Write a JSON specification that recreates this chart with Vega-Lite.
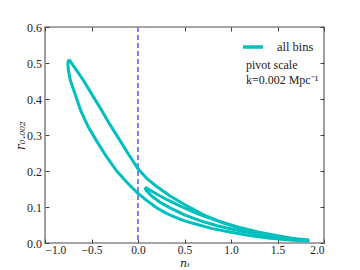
{
  "$schema": "https://vega.github.io/schema/vega-lite/v6.json",
  "width": 279,
  "height": 216,
  "autosize": {"type": "none"},
  "padding": {"left": 45, "top": 27, "right": 36, "bottom": 27},
  "config": {
    "view": {"stroke": "#888888", "strokeWidth": 1.6},
    "font": "Liberation Serif",
    "axis": {
      "grid": false,
      "domain": false,
      "labelFont": "Liberation Serif",
      "labelFontSize": 12,
      "labelColor": "#222222",
      "tickColor": "#444444",
      "tickSize": -4,
      "labelPadding": 8,
      "titleFont": "DejaVu Serif",
      "titleFontSize": 12,
      "titleFontWeight": "normal",
      "titleColor": "#222222"
    }
  },
  "datasets": {
    "contour": [
      {"loop": "outer", "i": 0, "x": -0.742, "y": 0.510},
      {"loop": "outer", "i": 1, "x": -0.754, "y": 0.501},
      {"loop": "outer", "i": 2, "x": -0.750, "y": 0.482},
      {"loop": "outer", "i": 3, "x": -0.728, "y": 0.452},
      {"loop": "outer", "i": 4, "x": -0.688, "y": 0.422},
      {"loop": "outer", "i": 5, "x": -0.616, "y": 0.368},
      {"loop": "outer", "i": 6, "x": -0.534, "y": 0.322},
      {"loop": "outer", "i": 7, "x": -0.444, "y": 0.283},
      {"loop": "outer", "i": 8, "x": -0.337, "y": 0.239},
      {"loop": "outer", "i": 9, "x": -0.229, "y": 0.200},
      {"loop": "outer", "i": 10, "x": -0.110, "y": 0.166},
      {"loop": "outer", "i": 11, "x": 0.0, "y": 0.138},
      {"loop": "outer", "i": 12, "x": 0.1, "y": 0.117},
      {"loop": "outer", "i": 13, "x": 0.2, "y": 0.098},
      {"loop": "outer", "i": 14, "x": 0.3, "y": 0.083},
      {"loop": "outer", "i": 15, "x": 0.45, "y": 0.066},
      {"loop": "outer", "i": 16, "x": 0.6, "y": 0.054},
      {"loop": "outer", "i": 17, "x": 0.8, "y": 0.040},
      {"loop": "outer", "i": 18, "x": 1.0, "y": 0.030},
      {"loop": "outer", "i": 19, "x": 1.2, "y": 0.021},
      {"loop": "outer", "i": 20, "x": 1.4, "y": 0.014},
      {"loop": "outer", "i": 21, "x": 1.6, "y": 0.009},
      {"loop": "outer", "i": 22, "x": 1.75, "y": 0.006},
      {"loop": "outer", "i": 23, "x": 1.83, "y": 0.006},
      {"loop": "outer", "i": 24, "x": 1.83, "y": 0.009},
      {"loop": "outer", "i": 25, "x": 1.7, "y": 0.011},
      {"loop": "outer", "i": 26, "x": 1.5, "y": 0.018},
      {"loop": "outer", "i": 27, "x": 1.3, "y": 0.028},
      {"loop": "outer", "i": 28, "x": 1.1, "y": 0.041},
      {"loop": "outer", "i": 29, "x": 0.9, "y": 0.057},
      {"loop": "outer", "i": 30, "x": 0.7, "y": 0.079},
      {"loop": "outer", "i": 31, "x": 0.5, "y": 0.107},
      {"loop": "outer", "i": 32, "x": 0.35, "y": 0.130},
      {"loop": "outer", "i": 33, "x": 0.2, "y": 0.157},
      {"loop": "outer", "i": 34, "x": 0.1, "y": 0.178},
      {"loop": "outer", "i": 35, "x": 0.0, "y": 0.206},
      {"loop": "outer", "i": 36, "x": -0.1, "y": 0.246},
      {"loop": "outer", "i": 37, "x": -0.194, "y": 0.285},
      {"loop": "outer", "i": 38, "x": -0.3, "y": 0.328},
      {"loop": "outer", "i": 39, "x": -0.39, "y": 0.368},
      {"loop": "outer", "i": 40, "x": -0.5, "y": 0.415},
      {"loop": "outer", "i": 41, "x": -0.588, "y": 0.452},
      {"loop": "outer", "i": 42, "x": -0.65, "y": 0.476},
      {"loop": "outer", "i": 43, "x": -0.70, "y": 0.494},
      {"loop": "outer", "i": 44, "x": -0.742, "y": 0.510},
      {"loop": "inner", "i": 0, "x": 0.075, "y": 0.155},
      {"loop": "inner", "i": 1, "x": 0.1, "y": 0.151},
      {"loop": "inner", "i": 2, "x": 0.2, "y": 0.136},
      {"loop": "inner", "i": 3, "x": 0.3, "y": 0.122},
      {"loop": "inner", "i": 4, "x": 0.45, "y": 0.103},
      {"loop": "inner", "i": 5, "x": 0.65, "y": 0.080},
      {"loop": "inner", "i": 6, "x": 0.85, "y": 0.062},
      {"loop": "inner", "i": 7, "x": 1.05, "y": 0.046},
      {"loop": "inner", "i": 8, "x": 1.3, "y": 0.030},
      {"loop": "inner", "i": 9, "x": 1.5, "y": 0.020},
      {"loop": "inner", "i": 10, "x": 1.65, "y": 0.013},
      {"loop": "inner", "i": 11, "x": 1.75, "y": 0.010},
      {"loop": "inner", "i": 12, "x": 1.65, "y": 0.011},
      {"loop": "inner", "i": 13, "x": 1.5, "y": 0.016},
      {"loop": "inner", "i": 14, "x": 1.3, "y": 0.024},
      {"loop": "inner", "i": 15, "x": 1.05, "y": 0.036},
      {"loop": "inner", "i": 16, "x": 0.85, "y": 0.048},
      {"loop": "inner", "i": 17, "x": 0.667, "y": 0.062},
      {"loop": "inner", "i": 18, "x": 0.5, "y": 0.078},
      {"loop": "inner", "i": 19, "x": 0.35, "y": 0.097},
      {"loop": "inner", "i": 20, "x": 0.237, "y": 0.113},
      {"loop": "inner", "i": 21, "x": 0.15, "y": 0.130},
      {"loop": "inner", "i": 22, "x": 0.085, "y": 0.147},
      {"loop": "inner", "i": 23, "x": 0.075, "y": 0.155}
    ]
  },
  "layer": [
    {
      "data": {"name": "contour"},
      "mark": {"type": "rule", "color": "#8080ff", "strokeWidth": 2, "strokeDash": [5, 3]},
      "encoding": {
        "x": {"datum": 0, "type": "quantitative", "scale": {"domain": [-1, 2], "nice": false}, "axis": {"orient": "top", "labels": false, "title": null, "values": [-1, -0.5, 0, 0.5, 1, 1.5, 2]}}
      }
    },
    {
      "data": {"name": "contour"},
      "mark": {"type": "line", "strokeWidth": 3, "strokeJoin": "round"},
      "encoding": {
        "x": {"field": "x", "type": "quantitative", "scale": {"domain": [-1, 2], "nice": false},
              "axis": {"orient": "bottom", "values": [-1, -0.5, 0, 0.5, 1, 1.5, 2], "format": ".1f", "labelPadding": 5.5, "labelFontSize": 11.5, "title": "nₜ", "titleFontStyle": "italic", "titleFontSize": 11, "titlePadding": 1.5}},
        "y": {"field": "y", "type": "quantitative", "scale": {"domain": [0, 0.6], "nice": false},
              "axis": {"orient": "left", "values": [0, 0.1, 0.2, 0.3, 0.4, 0.5, 0.6], "format": ".1f", "labelPadding": 7.5, "title": "r₀.₀₀₂", "titleFontStyle": "italic", "titlePadding": -1}},
        "detail": {"field": "loop"},
        "order": {"field": "i", "type": "quantitative"},
        "color": {"datum": "all bins", "scale": {"range": ["#00BFBF"]},
                  "legend": {"title": null, "orient": "none", "legendX": 196, "legendY": 8, "symbolType": "stroke", "symbolSize": 400, "symbolStrokeWidth": 3.5, "labelFontSize": 12.5, "labelFont": "Liberation Serif", "labelColor": "#222222", "labelOffset": 12}}
      }
    },
    {
      "data": {"name": "contour"},
      "mark": {"type": "point", "opacity": 0},
      "encoding": {
        "y": {"field": "y", "type": "quantitative", "scale": {"domain": [0, 0.6], "nice": false},
              "axis": {"orient": "right", "labels": false, "title": null, "values": [0, 0.1, 0.2, 0.3, 0.4, 0.5, 0.6]}}
      }
    },
    {
      "data": {"values": [{"note": "pivot"}]},
      "mark": {"type": "text", "text": ["pivot scale", "k=0.002 Mpc⁻¹"], "align": "left", "baseline": "alphabetic", "fontSize": 12, "lineHeight": 15, "color": "#222222", "font": "Liberation Serif"},
      "encoding": {
        "x": {"datum": 1.16, "type": "quantitative", "axis": null},
        "y": {"datum": 0.484, "type": "quantitative", "axis": null}
      }
    }
  ],
  "resolve": {"axis": {"x": "independent", "y": "independent"}}
}
